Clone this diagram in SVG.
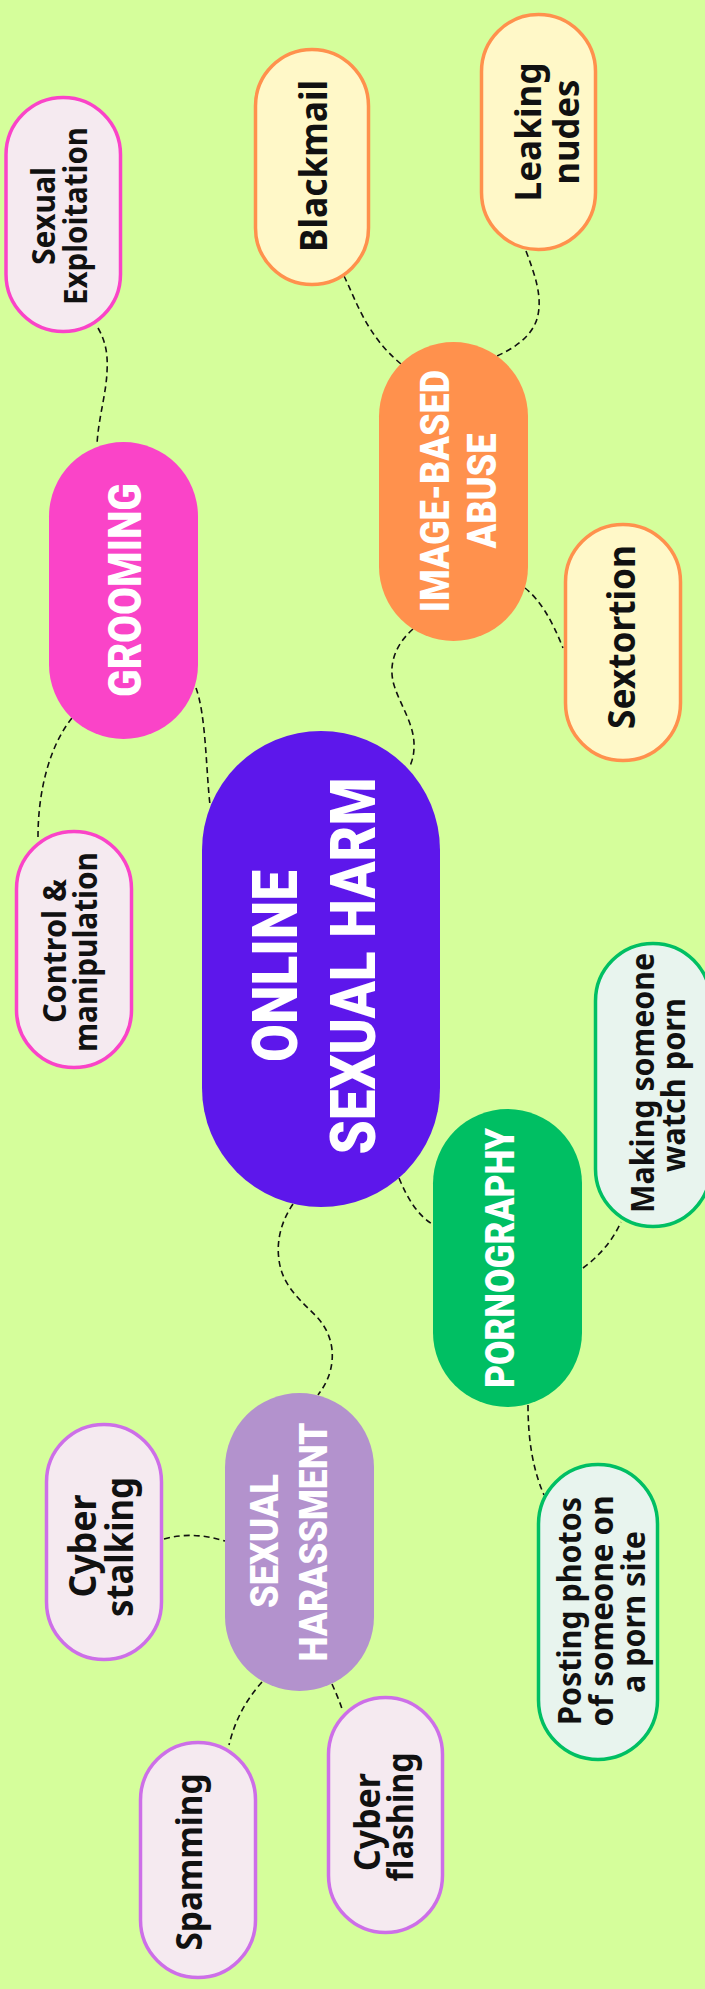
<svg xmlns="http://www.w3.org/2000/svg" width="705" height="1989" viewBox="0 0 705 1989">
<style>
.bg{fill:#D5FE9B}
.con{fill:none;stroke:#111;stroke-width:1.6;stroke-dasharray:6 4}
.leaf{font-family:"Noto Sans","Liberation Sans",sans-serif;font-weight:700;fill:#111;text-anchor:middle}
.main{font-family:Roboto,"Liberation Sans",sans-serif;font-weight:900;fill:#fff;text-anchor:middle}
.lp{fill:#F5EAF0;stroke:#FA44C8;stroke-width:3.5}
.lo{fill:#FFF8C8;stroke:#FF914D;stroke-width:3.5}
.lg{fill:#E8F4EE;stroke:#00BF63;stroke-width:3.5}
.lv{fill:#F5EAF0;stroke:#CD6FE8;stroke-width:3.5}
</style>
<rect class="bg" x="0" y="0" width="705" height="1989"/>
<g id="connectors">
<path class="con" d="M98,328 C106,342 108,355 107,372 C106,395 98,420 97,445"/>
<path class="con" d="M72,718 C50,745 38,790 38,837"/>
<path class="con" d="M196,688 C206,715 206,770 210,805"/>
<path class="con" d="M344,276 C356,300 366,335 401,364"/>
<path class="con" d="M526,251 C535,275 542,295 538,315 C534,335 515,348 497,356"/>
<path class="con" d="M525,588 C540,600 552,620 563,648"/>
<path class="con" d="M413,629 C395,645 388,665 394,685 C400,705 415,725 414,747 C414,755 412,762 409,768"/>
<path class="con" d="M399,1178 C408,1200 418,1215 432,1224"/>
<path class="con" d="M583,1268 C598,1257 612,1242 621,1222"/>
<path class="con" d="M528,1405 C528,1440 533,1470 544,1495"/>
<path class="con" d="M293,1204 C282,1220 276,1240 279,1260 C282,1285 300,1300 315,1315 C330,1330 336,1350 330,1372 C327,1382 323,1388 318,1395"/>
<path class="con" d="M164,1539 C185,1533 205,1535 225,1541"/>
<path class="con" d="M262,1682 C246,1700 235,1720 229,1745"/>
<path class="con" d="M332,1684 C336,1693 340,1702 343,1712"/>
</g>
<g id="center">
<rect x="202" y="731" width="238" height="476" rx="119" fill="#5D17EB"/>
<text class="main" transform="rotate(-90)" font-size="63"><tspan x="-966" y="297" textLength="192" lengthAdjust="spacingAndGlyphs">ONLINE</tspan><tspan x="-966" y="375" textLength="377" lengthAdjust="spacingAndGlyphs">SEXUAL HARM</tspan></text>
</g>
<g id="grooming">
<rect x="49" y="442" width="149" height="297" rx="74.5" fill="#FA44C8"/>
<text class="main" transform="rotate(-90)" font-size="46" x="-590" y="141" textLength="214" lengthAdjust="spacingAndGlyphs">GROOMING</text>
</g>
<g id="image-based-abuse">
<rect x="379" y="342" width="149" height="299" rx="74.5" fill="#FF914D"/>
<text class="main" transform="rotate(-90)" font-size="41"><tspan x="-491" y="449" textLength="242" lengthAdjust="spacingAndGlyphs">IMAGE-BASED</tspan><tspan x="-491" y="496" textLength="115" lengthAdjust="spacingAndGlyphs">ABUSE</tspan></text>
</g>
<g id="pornography">
<rect x="433" y="1109" width="149" height="298" rx="74.5" fill="#00BF63"/>
<text class="main" transform="rotate(-90)" font-size="41" x="-1258" y="514" textLength="260" lengthAdjust="spacingAndGlyphs">PORNOGRAPHY</text>
</g>
<g id="sexual-harassment">
<rect x="225" y="1393" width="149" height="298" rx="74.5" fill="#B392CD"/>
<text class="main" transform="rotate(-90)" font-size="39"><tspan x="-1541" y="278" textLength="134" lengthAdjust="spacingAndGlyphs">SEXUAL</tspan><tspan x="-1542" y="327" textLength="239" lengthAdjust="spacingAndGlyphs">HARASSMENT</tspan></text>
</g>
<g id="sexual-exploitation">
<rect class="lp" x="6" y="97.5" width="114.5" height="234" rx="57.25"/>
<text class="leaf" transform="rotate(-90)" font-size="32"><tspan x="-216" y="55" textLength="98" lengthAdjust="spacingAndGlyphs">Sexual</tspan><tspan x="-216" y="87" textLength="178" lengthAdjust="spacingAndGlyphs">Exploitation</tspan></text>
</g>
<g id="control-manipulation">
<rect class="lp" x="16.5" y="831.5" width="115" height="236" rx="57.5"/>
<text class="leaf" transform="rotate(-90)" font-size="32"><tspan x="-951" y="66" textLength="144" lengthAdjust="spacingAndGlyphs">Control &amp;</tspan><tspan x="-952" y="97" textLength="200" lengthAdjust="spacingAndGlyphs">manipulation</tspan></text>
</g>
<g id="blackmail">
<rect class="lo" x="255.5" y="49.5" width="113" height="235" rx="56.5"/>
<text class="leaf" transform="rotate(-90)" font-size="38" x="-166" y="327" textLength="172" lengthAdjust="spacingAndGlyphs">Blackmail</text>
</g>
<g id="leaking-nudes">
<rect class="lo" x="481.5" y="14.5" width="114" height="235" rx="57"/>
<text class="leaf" transform="rotate(-90)" font-size="36"><tspan x="-132" y="541" textLength="139" lengthAdjust="spacingAndGlyphs">Leaking</tspan><tspan x="-132" y="579" textLength="105" lengthAdjust="spacingAndGlyphs">nudes</tspan></text>
</g>
<g id="sextortion">
<rect class="lo" x="565.5" y="524.5" width="115" height="236" rx="57.5"/>
<text class="leaf" transform="rotate(-90)" font-size="37" x="-637" y="635" textLength="184" lengthAdjust="spacingAndGlyphs">Sextortion</text>
</g>
<g id="making-someone-watch-porn">
<rect class="lg" x="595.5" y="943.5" width="115" height="283" rx="57.5"/>
<text class="leaf" transform="rotate(-90)" font-size="32"><tspan x="-1083" y="654" textLength="260" lengthAdjust="spacingAndGlyphs">Making someone</tspan><tspan x="-1085" y="685" textLength="174" lengthAdjust="spacingAndGlyphs">watch porn</tspan></text>
</g>
<g id="posting-photos">
<rect class="lg" x="538.5" y="1464.5" width="119" height="295" rx="59.5"/>
<text class="leaf" transform="rotate(-90)" font-size="32"><tspan x="-1611" y="581" textLength="228" lengthAdjust="spacingAndGlyphs">Posting photos</tspan><tspan x="-1611" y="613" textLength="231" lengthAdjust="spacingAndGlyphs">of someone on</tspan><tspan x="-1612" y="645" textLength="162" lengthAdjust="spacingAndGlyphs">a porn site</tspan></text>
</g>
<g id="cyber-stalking">
<rect class="lv" x="46.5" y="1424.5" width="115" height="235" rx="57.5"/>
<text class="leaf" transform="rotate(-90)" font-size="37"><tspan x="-1546" y="96" textLength="103" lengthAdjust="spacingAndGlyphs">Cyber</tspan><tspan x="-1547" y="133" textLength="140" lengthAdjust="spacingAndGlyphs">stalking</tspan></text>
</g>
<g id="spamming">
<rect class="lv" x="140.5" y="1742.5" width="115" height="235" rx="57.5"/>
<text class="leaf" transform="rotate(-90)" font-size="35" x="-1862" y="202" textLength="177" lengthAdjust="spacingAndGlyphs">Spamming</text>
</g>
<g id="cyber-flashing">
<rect class="lv" x="328.5" y="1697.5" width="114" height="235" rx="57"/>
<text class="leaf" transform="rotate(-90)" font-size="35"><tspan x="-1822" y="380" textLength="98" lengthAdjust="spacingAndGlyphs">Cyber</tspan><tspan x="-1817" y="413" textLength="129" lengthAdjust="spacingAndGlyphs">flashing</tspan></text>
</g>
</svg>
